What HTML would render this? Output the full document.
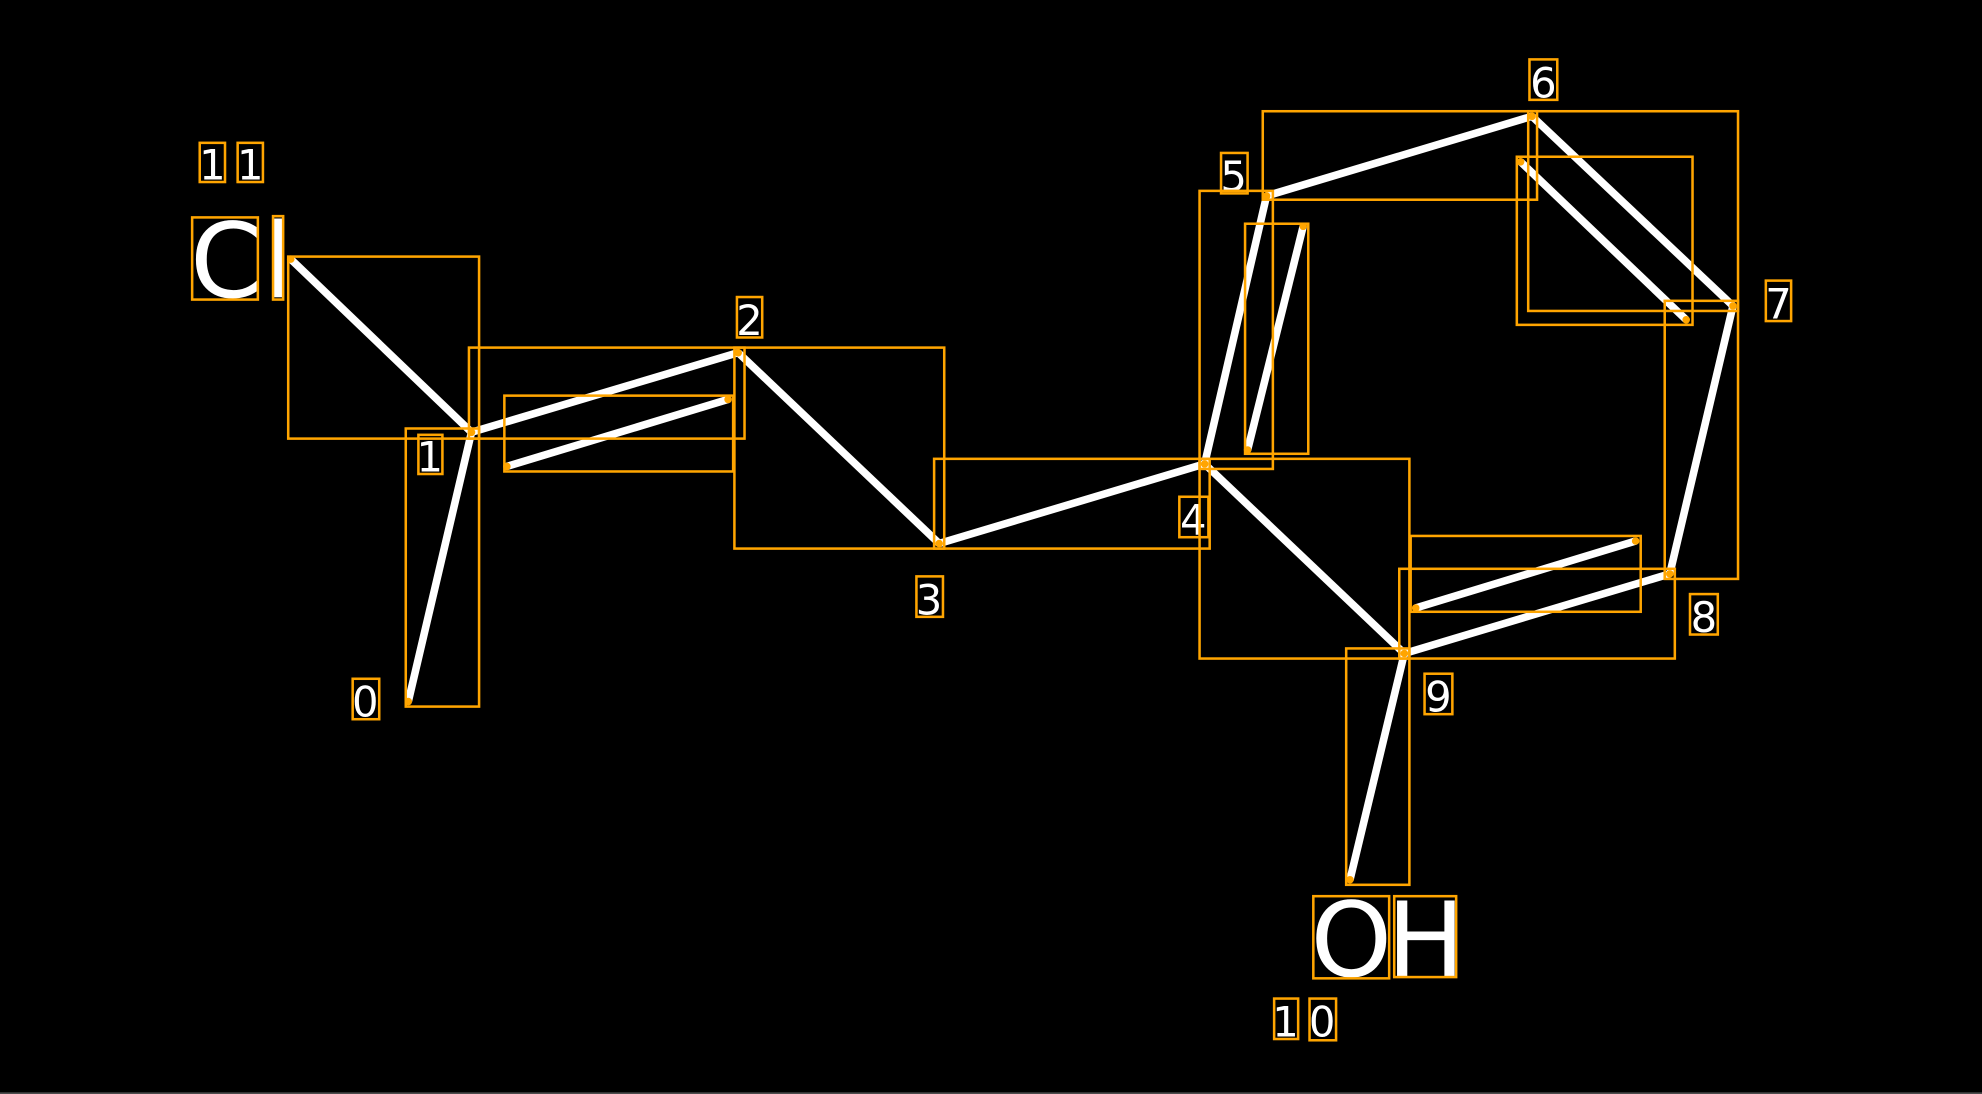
<!DOCTYPE html>
<html><head><meta charset="utf-8"><style>html,body{margin:0;padding:0;background:#000;width:1982px;height:1094px;overflow:hidden}svg{display:block}</style></head>
<body>
<svg width="1982" height="1094" viewBox="0 0 1568 865.5" xmlns="http://www.w3.org/2000/svg">
<rect width="1568" height="866" fill="#000"/>
<line x1="0" y1="864.8" x2="1568" y2="864.8" stroke="#666" stroke-width="1"/>
<g stroke="#fff" stroke-width="6" stroke-linecap="butt">
<line x1="230" y1="205" x2="373" y2="342"/>
<line x1="373" y1="342" x2="323" y2="555"/>
<line x1="373" y1="342" x2="584" y2="279"/>
<line x1="401" y1="369" x2="576" y2="316"/>
<line x1="584" y1="279" x2="743" y2="430"/>
<line x1="743" y1="430" x2="953" y2="367"/>
<line x1="953" y1="367" x2="1002" y2="155"/>
<line x1="987" y1="356" x2="1031" y2="179"/>
<line x1="1002" y1="155" x2="1212" y2="92"/>
<line x1="1212" y1="92" x2="1371" y2="242"/>
<line x1="1203" y1="128" x2="1334" y2="253"/>
<line x1="1371" y1="242" x2="1321" y2="454"/>
<line x1="1321" y1="454" x2="1111" y2="517"/>
<line x1="1294" y1="428" x2="1120" y2="481"/>
<line x1="1111" y1="517" x2="953" y2="367"/>
<line x1="1111" y1="517" x2="1068" y2="696"/>
</g>
<g fill="orange">
<circle cx="230" cy="205" r="3"/><circle cx="373" cy="342" r="3"/><circle cx="323" cy="555" r="3"/><circle cx="584" cy="279" r="3"/><circle cx="401" cy="369" r="3"/><circle cx="576" cy="316" r="3"/><circle cx="743" cy="430" r="3"/><circle cx="953" cy="367" r="3"/><circle cx="1002" cy="155" r="3"/><circle cx="987" cy="356" r="3"/><circle cx="1031" cy="179" r="3"/><circle cx="1212" cy="92" r="3"/><circle cx="1371" cy="242" r="3"/><circle cx="1203" cy="128" r="3"/><circle cx="1334" cy="253" r="3"/><circle cx="1321" cy="454" r="3"/><circle cx="1111" cy="517" r="3"/><circle cx="1294" cy="428" r="3"/><circle cx="1120" cy="481" r="3"/><circle cx="1068" cy="696" r="3"/>
</g>
<g fill="#fff" font-family="DejaVu Sans, sans-serif" font-size="33" text-anchor="middle">
<text x="168" y="142">1</text><text x="198" y="142">1</text>
<text x="340" y="373">1</text>
<text x="593" y="265">2</text>
<text x="735" y="486">3</text>
<text x="944" y="423">4</text>
<text x="976" y="151">5</text>
<text x="1221" y="77">6</text>
<text x="1407" y="252">7</text>
<text x="1348" y="500">8</text>
<text x="1138" y="563">9</text>
<text x="289" y="567">0</text>
<text x="1017" y="820">1</text><text x="1046" y="820">0</text>
<text x="179" y="235" font-size="82">C</text>
<text x="220" y="235" font-size="82">l</text>
<text x="1069" y="772" font-size="82">O</text>
<text x="1128" y="772" font-size="82">H</text>
</g>
<g fill="none" stroke="orange" stroke-width="2">
<rect x="228" y="203" width="151" height="144"/>
<rect x="321" y="339" width="58" height="220"/>
<rect x="371" y="275" width="218" height="72"/>
<rect x="399" y="313" width="181" height="60"/>
<rect x="581" y="275" width="166" height="159"/>
<rect x="739" y="363" width="218" height="71"/>
<rect x="949" y="151" width="58" height="220"/>
<rect x="985" y="177" width="50" height="182"/>
<rect x="999" y="88" width="217" height="70"/>
<rect x="1209" y="88" width="166" height="158"/>
<rect x="1200" y="124" width="139" height="133"/>
<rect x="1317" y="238" width="58" height="220"/>
<rect x="1107" y="450" width="218" height="71"/>
<rect x="1116" y="424" width="182" height="60"/>
<rect x="949" y="363" width="166" height="158"/>
<rect x="1065" y="513" width="50" height="187"/>
<rect x="158" y="113" width="20" height="31"/><rect x="188" y="113" width="20" height="31"/>
<rect x="152" y="172" width="52" height="65"/><rect x="216" y="171" width="8" height="66"/>
<rect x="331" y="344" width="19" height="31"/>
<rect x="583" y="235" width="20" height="32"/>
<rect x="725" y="456" width="21" height="32"/>
<rect x="933" y="393" width="23" height="32"/>
<rect x="966" y="121" width="21" height="32"/>
<rect x="1210" y="47" width="22" height="32"/>
<rect x="1397" y="222" width="20" height="32"/>
<rect x="1337" y="470" width="22" height="32"/>
<rect x="1127" y="533" width="22" height="32"/>
<rect x="279" y="537" width="21" height="32"/>
<rect x="1008" y="790" width="19" height="32"/><rect x="1036" y="790" width="21" height="33"/>
<rect x="1039" y="709" width="60" height="65"/><rect x="1103" y="709" width="49" height="64"/>
</g>
</svg>
</body></html>
